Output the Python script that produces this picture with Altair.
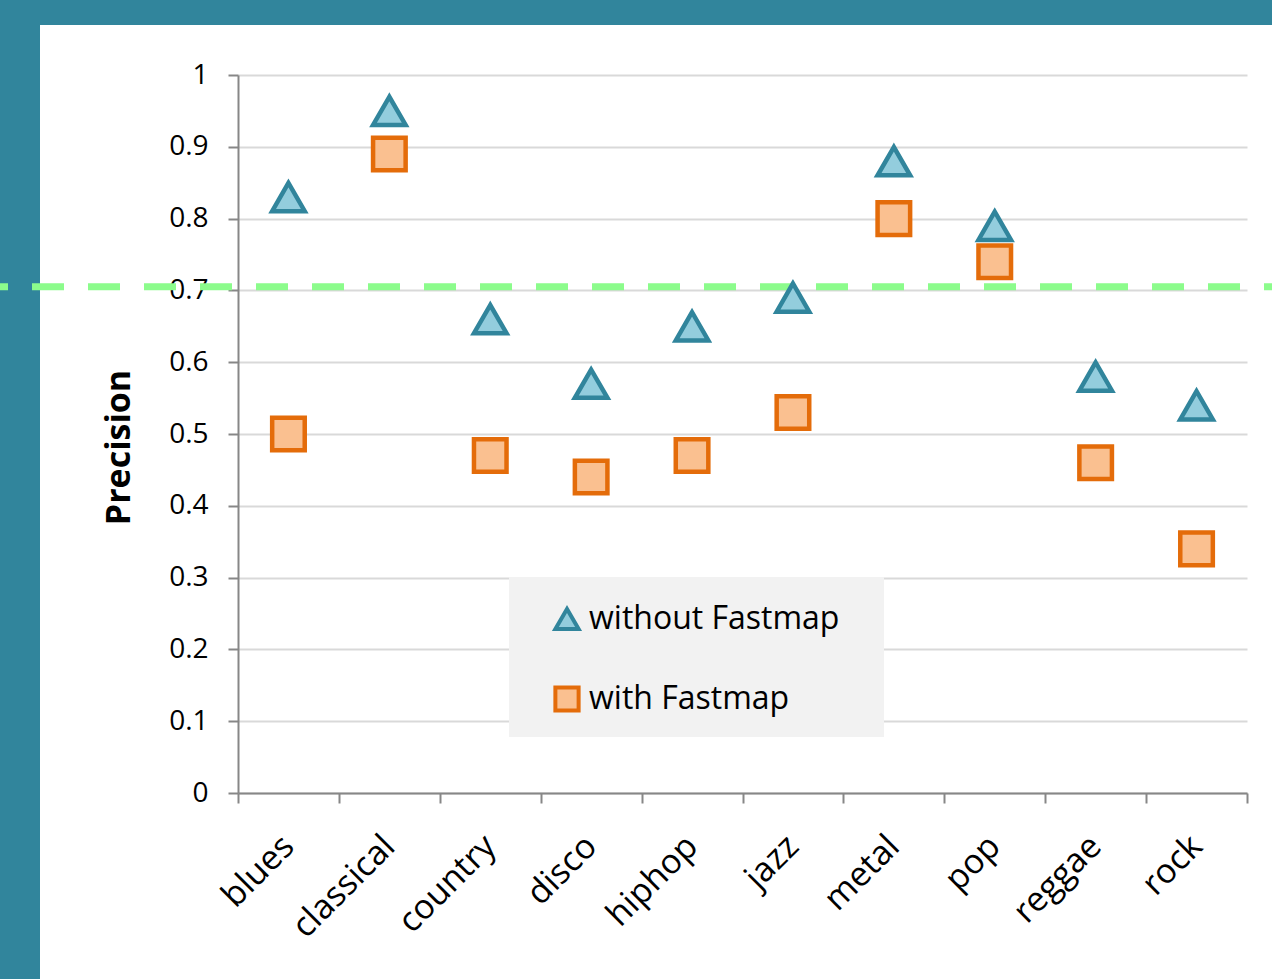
import altair as alt
import pandas as pd

genres = ["blues", "classical", "country", "disco", "hiphop", "jazz", "metal", "pop", "reggae", "rock"]
without_fastmap = [0.83, 0.95, 0.66, 0.57, 0.65, 0.69, 0.88, 0.79, 0.58, 0.54]
with_fastmap = [0.50, 0.89, 0.47, 0.44, 0.47, 0.53, 0.80, 0.74, 0.46, 0.34]
series_names = ["without Fastmap", "with Fastmap"]
threshold = [0.705]
y_ticks = [0, 0.1, 0.2, 0.3, 0.4, 0.5, 0.6, 0.7, 0.8, 0.9, 1]

rows = []
for g, a, b in zip(genres, without_fastmap, with_fastmap):
    rows.append({"genre": g, "series": series_names[0], "precision": a})
    rows.append({"genre": g, "series": series_names[1], "precision": b})
df = pd.DataFrame(rows)

FONT = "Open Sans"
W, H = 1009, 718
PL, PT = 238, 75
TEAL = "#31859c"

x_enc = alt.X("genre:N", sort=genres,
              scale=alt.Scale(paddingInner=0, paddingOuter=0),
              axis=alt.Axis(title=None, tickBand="extent"))
y_enc = alt.Y("precision:Q", scale=alt.Scale(domain=[0, 1], nice=False),
              axis=alt.Axis(title="Precision", values=y_ticks, format=".1~f"))

one = pd.DataFrame({"k": [0]})
top_bar = alt.Chart(one).mark_rect(color=TEAL).encode(
    x=alt.value(-PL), x2=alt.value(1272 - PL), y=alt.value(-PT), y2=alt.value(25 - PT))
left_bar = alt.Chart(one).mark_rect(color=TEAL).encode(
    x=alt.value(-PL), x2=alt.value(40 - PL), y=alt.value(-PT), y2=alt.value(979 - PT))
legend_box = alt.Chart(one).mark_rect(color="#f2f2f2").encode(
    x=alt.value(509 - PL), x2=alt.value(884 - PL), y=alt.value(577 - PT), y2=alt.value(737 - PT))

rule = alt.Chart(pd.DataFrame({"precision": threshold})).mark_rule(
    color="#8cfc8c", strokeWidth=7, strokeDash=[32, 24], strokeDashOffset=24).encode(
    y=y_enc, x=alt.value(-PL), x2=alt.value(1272 - PL))

leg = alt.Legend(title=None, orient="none", legendX=313, legendY=528,
                 padding=0, symbolSize=540, symbolStrokeWidth=4, rowPadding=41,
                 labelOffset=6, labelLimit=0)

points = alt.Chart(df).mark_point(filled=False, size=1060, strokeWidth=4.5, opacity=1).encode(
    x=x_enc, y=y_enc,
    shape=alt.Shape("series:N", sort=series_names,
                    scale=alt.Scale(domain=series_names, range=["triangle-up", "square"]),
                    legend=leg),
    fill=alt.Fill("series:N", sort=series_names,
                  scale=alt.Scale(domain=series_names, range=["#93cddd", "#fac090"]),
                  legend=leg),
    stroke=alt.Stroke("series:N", sort=series_names,
                      scale=alt.Scale(domain=series_names, range=[TEAL, "#e46c0a"]),
                      legend=leg),
    order=alt.Order("series:N", sort="descending"),
)

chart = alt.layer(legend_box, top_bar, left_bar, rule, points).properties(
    width=W, height=H,
    padding={"left": PL, "top": PT, "right": 1272 - PL - W, "bottom": 979 - PT - H},
    autosize=alt.AutoSizeParams(type="none"),
    background="white",
).configure_view(stroke=None).configure_axis(
    labelFont=FONT, labelColor="black", titleFont=FONT, titleColor="black",
    tickSize=10, tickColor="#878787", tickWidth=2,
    domainColor="#878787", domainWidth=2, labelLimit=0,
).configure_axisX(
    labelAngle=-45, labelAlign="right", labelBaseline="middle", labelFontSize=34,
    labelPadding=38, grid=False,
).configure_axisY(
    labelFontSize=28, labelPadding=20, grid=True, gridColor="#d9d9d9", gridWidth=2,
    titleFontSize=34, titleFontWeight="bold", titlePadding=32, titleY=372,
).configure_legend(
    labelFont=FONT, labelFontSize=32, labelColor="black",
)

chart.save("out.html", embed_options={"renderer": "svg", "actions": False})
